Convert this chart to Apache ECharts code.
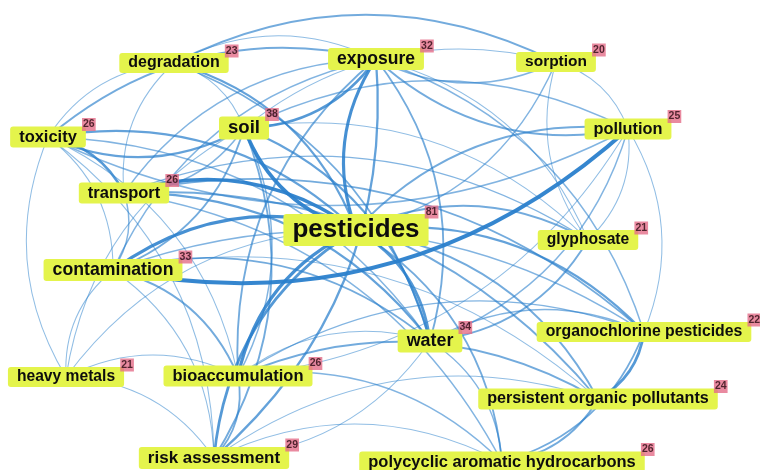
<!DOCTYPE html>
<html lang="en">
<head>
<meta charset="utf-8" />
<script src="https://cdn.jsdelivr.net/npm/echarts@6/dist/echarts.min.js"></script>
<style>
	html, body { margin: 0; padding: 0; background: #ffffff; }
	#main { width: 760px; height: 470px; }
</style>
</head>
<body>
<div id="main"></div>
<script type="text/javascript">
// keywords and how often they occur
var keywords = ['pesticides', 'soil', 'water', 'contamination', 'exposure', 'risk assessment',
	'toxicity', 'transport', 'bioaccumulation', 'polycyclic aromatic hydrocarbons', 'pollution',
	'persistent organic pollutants', 'degradation', 'organochlorine pesticides', 'glyphosate',
	'heavy metals', 'sorption'];
var occurrences = [81, 38, 34, 33, 32, 29, 26, 26, 26, 26, 25, 24, 23, 22, 21, 21, 20];
// map layout (VOSviewer style coordinates, screen units)
var mapX = [356, 244, 430, 113, 376, 214, 48, 124, 238, 502, 628, 598, 174, 644, 588, 66, 556];
var mapY = [230, 128, 341, 270, 59, 458, 137, 193, 376, 462, 129, 399, 63, 332, 240, 377, 62];

// co-occurrence links: [from, to, strength]
var links = [
	['pesticides', 'soil', 7], ['transport', 'pesticides', 7], ['pesticides', 'exposure', 6],
	['contamination', 'pesticides', 6], ['pesticides', 'water', 5], ['bioaccumulation', 'pesticides', 6],
	['risk assessment', 'pesticides', 5], ['degradation', 'pesticides', 4], ['toxicity', 'pesticides', 4],
	['pesticides', 'pollution', 3], ['pesticides', 'glyphosate', 3], ['pesticides', 'organochlorine pesticides', 4],
	['pesticides', 'persistent organic pollutants', 3], ['pesticides', 'polycyclic aromatic hydrocarbons', 3],
	['sorption', 'pesticides', 2], ['heavy metals', 'pesticides', 1],
	['pollution', 'contamination', 8], ['exposure', 'soil', 5], ['exposure', 'risk assessment', 4],
	['bioaccumulation', 'exposure', 3], ['toxicity', 'exposure', 3], ['pollution', 'exposure', 3],
	['sorption', 'exposure', 2], ['transport', 'exposure', 2], ['exposure', 'water', 3],
	['contamination', 'exposure', 2], ['exposure', 'glyphosate', 1], ['exposure', 'organochlorine pesticides', 2],
	['degradation', 'exposure', 1], ['degradation', 'sorption', 3], ['toxicity', 'degradation', 1],
	['degradation', 'soil', 1], ['transport', 'degradation', 1], ['degradation', 'water', 3],
	['toxicity', 'transport', 5], ['soil', 'toxicity', 4], ['pollution', 'toxicity', 2],
	['toxicity', 'contamination', 1], ['heavy metals', 'toxicity', 1], ['toxicity', 'risk assessment', 1],
	['toxicity', 'water', 2], ['toxicity', 'bioaccumulation', 1], ['soil', 'transport', 2],
	['soil', 'contamination', 3], ['soil', 'water', 4], ['soil', 'sorption', 1], ['soil', 'pollution', 2],
	['soil', 'glyphosate', 1], ['soil', 'bioaccumulation', 2], ['soil', 'risk assessment', 3],
	['heavy metals', 'soil', 1], ['transport', 'water', 4], ['transport', 'contamination', 2],
	['transport', 'glyphosate', 2], ['transport', 'persistent organic pollutants', 3],
	['transport', 'organochlorine pesticides', 3], ['transport', 'polycyclic aromatic hydrocarbons', 2],
	['contamination', 'water', 3], ['contamination', 'bioaccumulation', 3], ['heavy metals', 'contamination', 1],
	['contamination', 'risk assessment', 1], ['contamination', 'organochlorine pesticides', 2],
	['contamination', 'persistent organic pollutants', 1], ['pollution', 'glyphosate', 1],
	['pollution', 'organochlorine pesticides', 1], ['pollution', 'water', 2], ['sorption', 'pollution', 1],
	['pollution', 'bioaccumulation', 1], ['glyphosate', 'water', 3], ['glyphosate', 'sorption', 1],
	['water', 'organochlorine pesticides', 2], ['water', 'polycyclic aromatic hydrocarbons', 2],
	['water', 'risk assessment', 1], ['bioaccumulation', 'water', 1],
	['organochlorine pesticides', 'persistent organic pollutants', 5],
	['organochlorine pesticides', 'polycyclic aromatic hydrocarbons', 3],
	['bioaccumulation', 'organochlorine pesticides', 2], ['persistent organic pollutants', 'polycyclic aromatic hydrocarbons', 3],
	['bioaccumulation', 'persistent organic pollutants', 3], ['bioaccumulation', 'polycyclic aromatic hydrocarbons', 2],
	['bioaccumulation', 'risk assessment', 3], ['heavy metals', 'risk assessment', 1],
	['heavy metals', 'bioaccumulation', 1], ['risk assessment', 'persistent organic pollutants', 1],
	['risk assessment', 'polycyclic aromatic hydrocarbons', 1]
];

var FONT = '"Liberation Sans", Arial, sans-serif';
var measure = document.createElement('canvas').getContext('2d');

function fontSizeOf(n) { return 12 + n * 0.173 }

var nodes = [], badges = [];
keywords.forEach(function (name, i) {
	var fs = fontSizeOf(occurrences[i]);
	measure.font = 'bold ' + fs + 'px ' + FONT;
	var w = measure.measureText(name).width + 18;
	var h = Math.round(fs * 1.15) + 2;
	nodes.push({
		name: name,
		value: [mapX[i], mapY[i]],
		label: { fontSize: fs, lineHeight: Math.round(fs * 1.15) }
	});
	badges.push({
		value: [mapX[i], mapY[i]],
		label: { offset: [w / 2 + 3, -(h / 2 + 2)] },
		count: occurrences[i]
	});
});

var edges = links.map(function (l) {
	var s = l[2];
	return {
		source: l[0], target: l[1],
		lineStyle: { width: 0.6 + s * 0.42, opacity: Math.min(0.95, 0.45 + s * 0.07) }
	};
});

var chart = echarts.init(document.getElementById('main'));
chart.setOption({
	animation: false,
	grid: { left: 0, right: 0, top: 0, bottom: 0 },
	xAxis: { type: 'value', min: 0, max: 760, show: false },
	yAxis: { type: 'value', min: 0, max: 470, inverse: true, show: false },
	series: [{
		type: 'graph',
		coordinateSystem: 'cartesian2d',
		layout: 'none',
		symbolSize: 1,
		itemStyle: { color: 'rgba(0,0,0,0)' },
		data: nodes,
		links: edges,
		lineStyle: { color: '#2a80cc', curveness: 0.25 },
		label: {
			show: true,
			position: 'inside',
			fontFamily: FONT,
			fontWeight: 'bold',
			color: '#0d0d0d',
			backgroundColor: '#e4f44c',
			borderRadius: 3,
			padding: [1, 9]
		},
		emphasis: { disabled: true }
	}, {
		type: 'scatter',
		symbolSize: 0,
		z: 5,
		data: badges,
		label: {
			show: true,
			position: 'inside',
			formatter: function (p) { return p.data.count },
			fontFamily: FONT,
			fontWeight: 'bold',
			fontSize: 10.5,
			lineHeight: 11,
			color: '#2b0a12',
			backgroundColor: '#e46d88',
			padding: [1, 1]
		},
		emphasis: { disabled: true }
	}]
});
</script>
</body>
</html>
